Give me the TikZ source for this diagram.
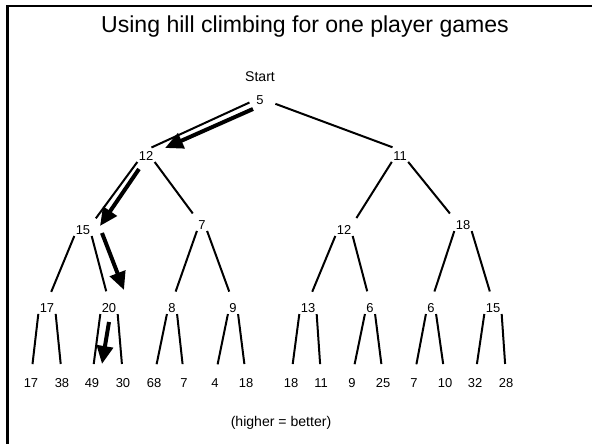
\documentclass[tikz,border=0pt]{standalone}
\usepackage{fontspec}
\setmainfont{Liberation Sans}
\usetikzlibrary{arrows.meta}
\tikzset{
  % TREE VALUES
  frameNum/.style={
    inner sep=0.3mm,
    font=\fontsize{9.2}{11}\selectfont
  },
  % HEADINGS AND NOTES
  frameTitle/.style={
    inner sep=0pt,
    font=\fontsize{16.4}{19}\selectfont
  },
  frameNote/.style={
    inner sep=0pt,
    font=\fontsize{10}{12}\selectfont
  },
  % TREE EDGES
  lineEdge/.style={
    draw=black, line width=0.5mm
  },
  % MOVES TAKEN BY THE CLIMBER
  lineMove/.style={
    draw=black, line width=1mm, -{Triangle[length=4.5mm,width=4mm]}
  }
}

\begin{document}
\begin{tikzpicture}[x=0.025cm,y=-0.025cm]
\useasboundingbox (0,0) rectangle (592,444);

% Slide frame
\draw [line width=0.55mm] (7.5,444) -- (7.5,6) -- (592,6);

% Headings
\node [frameTitle] (title) at (305,27) {Using hill climbing for one player games};
\node [frameNote] (start) at (260,77) {Start};
\node [frameNote] (note) at (281,423) {(higher = better)};

% Root and first level
\node [frameNum] (node_root) at (260,100) {5};
\node [frameNum] (node_L) at (146,156) {12};
\node [frameNum] (node_R) at (400,156) {11};

% Second level
\node [frameNum] (node_LL) at (83,230) {15};
\node [frameNum] (node_LR) at (202,225) {7};
\node [frameNum] (node_RL) at (344,230) {12};
\node [frameNum] (node_RR) at (463,225) {18};

% Third level
\node [frameNum] (node_LLL) at (47,308) {17};
\node [frameNum] (node_LLR) at (109,308) {20};
\node [frameNum] (node_LRL) at (172,308) {8};
\node [frameNum] (node_LRR) at (233,308) {9};
\node [frameNum] (node_RLL) at (308,308) {13};
\node [frameNum] (node_RLR) at (370,308) {6};
\node [frameNum] (node_RRL) at (431,308) {6};
\node [frameNum] (node_RRR) at (493,308) {15};

% Leaves
\node [frameNum] (node_LLLL) at (31,383) {17};
\node [frameNum] (node_LLLR) at (62,383) {38};
\node [frameNum] (node_LLRL) at (92,383) {49};
\node [frameNum] (node_LLRR) at (123,383) {30};
\node [frameNum] (node_LRLL) at (154,383) {68};
\node [frameNum] (node_LRLR) at (184,383) {7};
\node [frameNum] (node_LRRL) at (215,383) {4};
\node [frameNum] (node_LRRR) at (246,383) {18};
\node [frameNum] (node_RLLL) at (291,383) {18};
\node [frameNum] (node_RLLR) at (321,383) {11};
\node [frameNum] (node_RLRL) at (352,383) {9};
\node [frameNum] (node_RLRR) at (383,383) {25};
\node [frameNum] (node_RRLL) at (414,383) {7};
\node [frameNum] (node_RRLR) at (445,383) {10};
\node [frameNum] (node_RRRL) at (475,383) {32};
\node [frameNum] (node_RRRR) at (506,383) {28};

% Edges from the root
\path [lineEdge,shorten <=1.5mm,shorten >=1.5mm] (node_root.west) -- (node_L.north) ;
\path [lineEdge,shorten <=2.75mm,shorten >=2mm] (node_root.east) -- (node_R.north) ;

% Edges to second level
\path [lineEdge,shorten >=1.75mm] (node_L.south west) -- (node_LL.north east) ;
\path [lineEdge,shorten >=1.75mm] (node_L.south east) -- (node_LR.north west) ;
\path [lineEdge,shorten >=1.75mm] (node_R.south west) -- (node_RL.north east) ;
\path [lineEdge,shorten >=1.75mm] (node_R.south east) -- (node_RR.north west) ;

% Edges to third level
\path [lineEdge,shorten >=2.75mm] (node_LL.south west) -- (node_LLL.north) ;
\path [lineEdge,shorten >=2.75mm] (node_LL.south east) -- (node_LLR.north) ;
\path [lineEdge,shorten >=2.75mm] (node_LR.south west) -- (node_LRL.north) ;
\path [lineEdge,shorten >=2.75mm] (node_LR.south east) -- (node_LRR.north) ;
\path [lineEdge,shorten >=2.75mm] (node_RL.south west) -- (node_RLL.north) ;
\path [lineEdge,shorten >=2.75mm] (node_RL.south east) -- (node_RLR.north) ;
\path [lineEdge,shorten >=2.75mm] (node_RR.south west) -- (node_RRL.north) ;
\path [lineEdge,shorten >=2.75mm] (node_RR.south east) -- (node_RRR.north) ;

% Edges to leaves
\path [lineEdge,shorten >=3.25mm] (node_LLL.south west) -- (node_LLLL.north) ;
\path [lineEdge,shorten >=3.25mm] (node_LLL.south east) -- (node_LLLR.north) ;
\path [lineEdge,shorten >=3.25mm] (node_LLR.south west) -- (node_LLRL.north) ;
\path [lineEdge,shorten >=3.25mm] (node_LLR.south east) -- (node_LLRR.north) ;
\path [lineEdge,shorten >=3.25mm] (node_LRL.south west) -- (node_LRLL.north) ;
\path [lineEdge,shorten >=3.25mm] (node_LRL.south east) -- (node_LRLR.north) ;
\path [lineEdge,shorten >=3.25mm] (node_LRR.south west) -- (node_LRRL.north) ;
\path [lineEdge,shorten >=3.25mm] (node_LRR.south east) -- (node_LRRR.north) ;
\path [lineEdge,shorten >=3.25mm] (node_RLL.south west) -- (node_RLLL.north) ;
\path [lineEdge,shorten >=3.25mm] (node_RLL.south east) -- (node_RLLR.north) ;
\path [lineEdge,shorten >=3.25mm] (node_RLR.south west) -- (node_RLRL.north) ;
\path [lineEdge,shorten >=3.25mm] (node_RLR.south east) -- (node_RLRR.north) ;
\path [lineEdge,shorten >=3.25mm] (node_RRL.south west) -- (node_RRLL.north) ;
\path [lineEdge,shorten >=3.25mm] (node_RRL.south east) -- (node_RRLR.north) ;
\path [lineEdge,shorten >=3.25mm] (node_RRR.south west) -- (node_RRRL.north) ;
\path [lineEdge,shorten >=3.25mm] (node_RRR.south east) -- (node_RRRR.north) ;

% Path chosen by hill climbing
\path [lineMove] ([shift={(-7,9)}]node_root.center) -- ([shift={(19,-8)}]node_L.center) ;
\path [lineMove] ([shift={(-7,13)}]node_L.center) -- ([shift={(17,-4)}]node_LL.center) ;
\path [lineMove] ([shift={(19,3)}]node_LL.center) -- ([shift={(15,-18)}]node_LLR.center) ;
\path [lineMove] ([shift={(0,14)}]node_LLR.center) -- ([shift={(10,-19)}]node_LLRL.center) ;

\end{tikzpicture}
\end{document}
